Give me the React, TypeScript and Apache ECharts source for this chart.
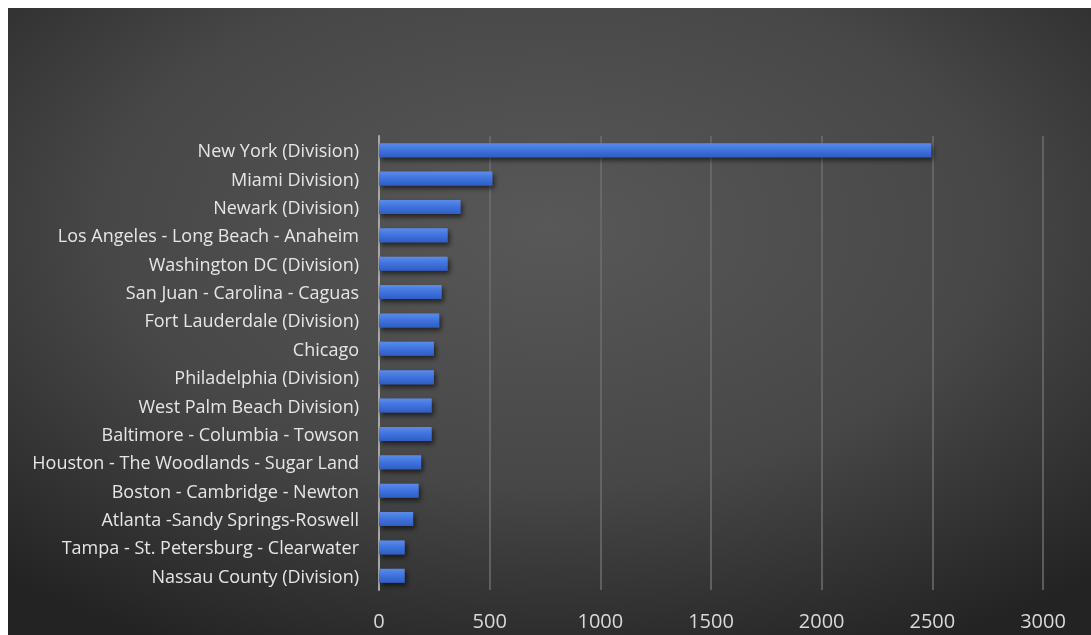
import React, { useEffect, useRef } from "react";
import * as echarts from "echarts";

const categories = [
  "New York (Division)",
  "Miami Division)",
  "Newark (Division)",
  "Los Angeles - Long Beach - Anaheim",
  "Washington DC (Division)",
  "San Juan - Carolina - Caguas",
  "Fort Lauderdale (Division)",
  "Chicago",
  "Philadelphia (Division)",
  "West Palm Beach Division)",
  "Baltimore - Columbia - Towson",
  "Houston - The Woodlands - Sugar Land",
  "Boston - Cambridge - Newton",
  "Atlanta -Sandy Springs-Roswell",
  "Tampa - St. Petersburg - Clearwater",
  "Nassau County (Division)",
];

const values = [2495, 512, 368, 310, 310, 283, 272, 248, 248, 238, 238, 190, 179, 154, 116, 116];

const xTicks = { min: 0, max: 3000, interval: 500 };

export default function App() {
  const ref = useRef<HTMLDivElement>(null);
  useEffect(() => {
    if (!ref.current) return;
    const chart = echarts.init(ref.current, undefined, { renderer: "svg" });
    chart.setOption({
      animation: false,
      backgroundColor: {
        type: "radial",
        x: 0.5,
        y: 0.35,
        r: 0.75,
        colorStops: [
          { offset: 0, color: "#585858" },
          { offset: 0.55, color: "#474747" },
          { offset: 1, color: "#232323" },
        ],
      },
      grid: { left: 371, right: 48, top: 128, bottom: 45, containLabel: false },
      xAxis: {
        type: "value",
        min: xTicks.min,
        max: xTicks.max,
        interval: xTicks.interval,
        axisLine: { show: false },
        axisTick: { show: false },
        axisLabel: {
          color: "#d9d9d9",
          fontSize: 20,
          fontFamily: "Open Sans",
          margin: 20,
          formatter: (v: number) => String(v),
        },
        splitLine: { show: true, lineStyle: { color: "#6e6e6e", width: 1.5 } },
      },
      yAxis: {
        type: "category",
        data: categories,
        inverse: true,
        axisLine: { show: true, lineStyle: { color: "#a8a8a8", width: 2 } },
        axisTick: { show: false },
        axisLabel: {
          color: "#e6e6e6",
          fontSize: 18,
          fontFamily: "Open Sans",
          margin: 20,
        },
        splitLine: { show: false },
      },
      series: [
        {
          type: "bar",
          data: values,
          barWidth: 14,
          itemStyle: {
            color: {
              type: "linear",
              x: 0,
              y: 0,
              x2: 0,
              y2: 1,
              colorStops: [
                { offset: 0, color: "#5b8cea" },
                { offset: 0.5, color: "#3f72dc" },
                { offset: 1, color: "#2f5ec4" },
              ],
            },
            shadowColor: "rgba(0,0,0,0.6)",
            shadowBlur: 5,
            shadowOffsetX: 2,
            shadowOffsetY: 3,
          },
        },
      ],
    });
    return () => chart.dispose();
  }, []);
  return (
    <div
      ref={ref}
      style={{ position: "fixed", left: 8, top: 8, width: 1083, height: 627 }}
    />
  );
}
